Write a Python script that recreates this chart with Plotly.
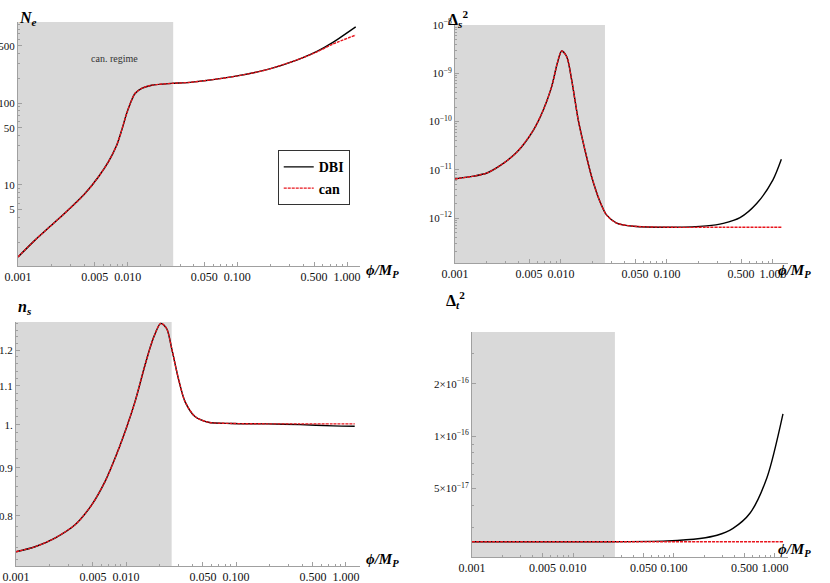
import plotly.graph_objects as go

# ---- data (phi / M_P on x) ----
# N_e panel
phi_ne = [0.001, 0.00143, 0.00203, 0.00287, 0.00408, 0.0054, 0.00666, 0.00794, 0.00882,
          0.00979, 0.01072, 0.01166, 0.01343, 0.01656, 0.0252, 0.037,
          0.0912, 0.186, 0.372, 0.532, 0.743, 1.2]
ne_dbi = [1.32, 2.12, 3.24, 4.94, 7.85, 12.5, 19.1, 30.6, 46.7,
          74.8, 104, 131, 151, 165, 174, 179,
          210, 256, 347, 427, 550, 850]
ne_can = [1.32, 2.12, 3.24, 4.94, 7.85, 12.5, 19.1, 30.6, 46.7,
          74.8, 104, 131, 151, 165, 174, 179,
          210, 256, 347, 422, 525, 676]

# Delta_s^2 panel
phi_ds = [0.001, 0.0015, 0.002, 0.00266, 0.00382, 0.00548, 0.00681, 0.00817, 0.00923, 0.01016, 0.01133,
          0.01262, 0.01456, 0.01683, 0.01946, 0.02333, 0.027, 0.0335, 0.0481, 0.1146, 0.2366,
          0.34, 0.489, 0.702, 1.0, 1.2]
ds_dbi = [6.5e-12, 7.4e-12, 8.6e-12, 1.22e-11, 2.3e-11, 6.6e-11, 1.74e-10, 5.3e-10, 1.61e-9, 2.9e-9, 2.2e-9,
          7.2e-10, 1.07e-10, 2.57e-11, 7.2e-12, 2.19e-12, 1.15e-12, 7.9e-13, 6.8e-13, 6.45e-13, 6.9e-13,
          7.8e-13, 1.02e-12, 2.0e-12, 6.2e-12, 1.65e-11]
ds_can = [6.5e-12, 7.4e-12, 8.6e-12, 1.22e-11, 2.3e-11, 6.6e-11, 1.74e-10, 5.3e-10, 1.61e-9, 2.9e-9, 2.2e-9,
          7.2e-10, 1.07e-10, 2.57e-11, 7.2e-12, 2.19e-12, 1.15e-12, 7.9e-13, 6.8e-13, 6.45e-13, 6.45e-13,
          6.45e-13, 6.45e-13, 6.45e-13, 6.45e-13, 6.45e-13]

# n_s panel
phi_ns = [0.001, 0.00149, 0.00226, 0.00344, 0.00488, 0.00644, 0.00794, 0.0098, 0.01208, 0.01489,
          0.0177, 0.0207, 0.0234, 0.026, 0.0299, 0.0344, 0.0424, 0.056, 0.0914, 0.191,
          0.382, 0.762, 1.2]
ns_dbi = [0.733, 0.742, 0.758, 0.783, 0.822, 0.870, 0.921, 0.983, 1.058, 1.157,
          1.235, 1.281, 1.265, 1.205, 1.120, 1.058, 1.020, 1.006, 1.003, 1.002,
          1.000, 0.997, 0.996]
ns_can = [0.733, 0.742, 0.758, 0.783, 0.822, 0.870, 0.921, 0.983, 1.058, 1.157,
          1.235, 1.281, 1.265, 1.205, 1.120, 1.058, 1.020, 1.006, 1.003, 1.002,
          1.002, 1.002, 1.002]

# Delta_t^2 panel
phi_dt = [0.001, 0.0185, 0.0853, 0.181, 0.267, 0.384, 0.565, 0.834, 1.2]
dt_dbi = [2.47e-17, 2.47e-17, 2.50e-17, 2.58e-17, 2.69e-17, 2.95e-17, 3.60e-17, 5.78e-17, 1.34e-16]
dt_can = [2.47e-17] * 9

can_regime = [0.001, 0.026]

x_ticks = [0.001, 0.005, 0.01, 0.05, 0.1, 0.5, 1.0]
x_ticklabels = ["0.001", "0.005", "0.010", "0.050", "0.100", "0.500", "1.000"]
x_minor = [k * 10.0 ** e for e in (-3, -2, -1, 0) for k in range(2, 10) if k != 5]

ne_ticks = [5, 10, 50, 100, 500]
ds_ticks = [1e-12, 1e-11, 1e-10, 1e-9, 1e-8]
ds_ticklabels = ["10<sup>\u221212</sup>", "10<sup>\u221211</sup>", "10<sup>\u221210</sup>",
                 "10<sup>\u22129</sup>", "10<sup>\u22128</sup>"]
ns_ticks = [0.8, 0.9, 1.0, 1.1, 1.2]
ns_ticklabels = ["0.8", "0.9", "1.", "1.1", "1.2"]
dt_ticks = [5e-17, 1e-16, 2e-16]
dt_ticklabels = ["5\u00d710<sup>\u221217</sup>", "1\u00d710<sup>\u221216</sup>", "2\u00d710<sup>\u221216</sup>"]

SERIF = "Liberation Serif"
AX = "#a0a0a0"

fig = go.Figure()

panels = [
    (phi_ne, ne_dbi, ne_can, "x", "y"),
    (phi_ds, ds_dbi, ds_can, "x2", "y2"),
    (phi_ns, ns_dbi, ns_can, "x3", "y3"),
    (phi_dt, dt_dbi, dt_can, "x4", "y4"),
]
for i, (px, dbi, can, xa, ya) in enumerate(panels):
    fig.add_trace(go.Scatter(x=px, y=dbi, name="<b>DBI</b>", mode="lines",
                             line=dict(color="black", width=1.4, shape="spline", smoothing=0.8),
                             xaxis=xa, yaxis=ya, showlegend=(i == 0)))
    fig.add_trace(go.Scatter(x=px, y=can, name="<b>can</b>", mode="lines",
                             line=dict(color="#e8141c", width=1.4, dash="3px,1px",
                                       shape="spline", smoothing=0.8),
                             xaxis=xa, yaxis=ya, showlegend=(i == 0)))
    fig.add_shape(type="rect", xref=xa, yref=ya + " domain", x0=can_regime[0], x1=can_regime[1],
                  y0=0, y1=1, fillcolor="#d9d9d9", line_width=0, layer="below")


def xax(domain, rng, anchor):
    return dict(type="log", domain=domain, range=rng, anchor=anchor, automargin=False,
                tickvals=x_ticks, ticktext=x_ticklabels, ticks="inside", ticklen=4,
                tickcolor=AX, minor=dict(tickvals=x_minor, ticks="inside", ticklen=2, tickcolor=AX),
                showline=True, linecolor=AX, linewidth=1, showgrid=False, zeroline=False,
                tickfont=dict(family=SERIF, size=12, color="#111"))


def yax(domain, rng, anchor, tv, tt, minor):
    return dict(type="log", domain=domain, range=rng, anchor=anchor, automargin=False,
                tickvals=tv, ticktext=tt, ticks="inside", ticklen=4, tickcolor=AX,
                minor=dict(tickvals=minor, ticks="inside", ticklen=2, tickcolor=AX),
                showline=True, linecolor=AX, linewidth=1, showgrid=False, zeroline=False,
                ticklabelstandoff=0,
                tickfont=dict(family=SERIF, size=11, color="#111"))


ne_minor = [2, 3, 4, 6, 7, 8, 9, 20, 30, 40, 60, 70, 80, 90, 200, 300, 400, 600, 700, 800, 900]
ds_minor = [k * 10.0 ** e for e in range(-13, -8) for k in range(2, 10)]
ns_minor = [0.72, 0.74, 0.76, 0.78, 0.82, 0.84, 0.86, 0.88, 0.92, 0.94, 0.96, 0.98,
            1.02, 1.04, 1.06, 1.08, 1.12, 1.14, 1.16, 1.18, 1.22, 1.24, 1.26, 1.28]
dt_minor = [3e-17, 4e-17, 6e-17, 7e-17, 8e-17, 9e-17, 3e-16]

fig.update_layout(
    width=830, height=583,
    margin=dict(l=0, r=0, t=0, b=0),
    paper_bgcolor="white", plot_bgcolor="white",
    xaxis=xax([0.0217, 0.4337], [-3, 0.118], "y"),
    yaxis=yax([0.5437, 0.9623], [0.01, 2.99], "x", ne_ticks, [str(v) for v in ne_ticks], ne_minor),
    xaxis2=xax([0.5482, 0.9494], [-3, 0.142], "y2"),
    yaxis2=yax([0.5489, 0.9571], [-12.93, -8.0], "x2", ds_ticks, ds_ticklabels, ds_minor),
    xaxis3=xax([0.0193, 0.4337], [-3, 0.127], "y3"),
    yaxis3=yax([0.0292, 0.4477], [-0.150, 0.109], "x3", ns_ticks, ns_ticklabels, ns_minor),
    xaxis4=xax([0.5687, 0.9494], [-3, 0.129], "y4"),
    yaxis4=yax([0.0446, 0.4305], [-16.695, -15.402], "x4", dt_ticks, dt_ticklabels, dt_minor),
    legend=dict(x=0.378, y=0.695, xanchor="center", yanchor="middle",
                bgcolor="white", bordercolor="#333", borderwidth=1,
                font=dict(family=SERIF, size=14, color="black"), itemwidth=30,
                tracegroupgap=0),
    showlegend=True,
)

labels = [
    ("<b><i>N</i></b><sub><b><i>e</i></b></sub>", 17, 7, 16),
    ("<b>\u0394</b><sub><b><i>s</i></b></sub><sup><b>2</b></sup>", 458, 6, 16),
    ("<b><i>n</i></b><sub><b><i>s</i></b></sub>", 16, 307, 16),
    ("<b>\u0394</b><sub><b><i>t</i></b></sub><sup><b>2</b></sup>", 455, 300, 16),
    ("<b><i>\u03d5/M</i></b><sub><b><i>P</i></b></sub>", 382, 271, 15),
    ("<b><i>\u03d5/M</i></b><sub><b><i>P</i></b></sub>", 813, 271, 15),
    ("<b><i>\u03d5/M</i></b><sub><b><i>P</i></b></sub>", 382, 571, 15),
    ("<b><i>\u03d5/M</i></b><sub><b><i>P</i></b></sub>", 813, 561, 15),
]
for txt, px_, py_, fs in labels:
    fig.add_annotation(text=txt, x=px_ / 830, y=1 - py_ / 583, xref="paper", yref="paper",
                       showarrow=False, font=dict(family=SERIF, size=fs, color="black"))

fig.add_annotation(text="can. regime", x=89 / 830, y=1 - 51 / 583, xref="paper", yref="paper",
                   showarrow=False, font=dict(family=SERIF, size=10, color="#333"))

# the page's default 8px body margin would shift the whole figure
fig.write_html("out.html", config={"displayModeBar": False},
               post_script="document.body.style.margin='0';")
